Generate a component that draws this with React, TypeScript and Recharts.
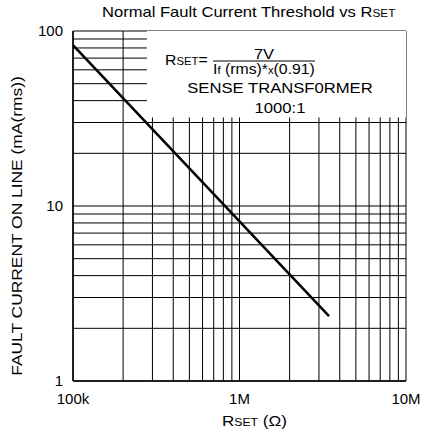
import React from "react";
import { LineChart, Line, XAxis, YAxis, CartesianGrid, ReferenceArea } from "recharts";

// values (log-log)
const RSET_OHMS = [100000, 3450000];
const FAULT_MA = [83, 2.35];

const X_GRID = [
  100000, 200000, 300000, 400000, 500000, 600000, 700000, 800000, 900000,
  1000000, 2000000, 3000000, 4000000, 5000000, 6000000, 7000000, 8000000, 9000000,
  10000000,
];
const Y_GRID = [1, 2, 3, 4, 5, 6, 7, 8, 9, 10, 20, 30, 40, 50, 60, 70, 80, 90, 100];
const X_LABELS: Record<number, string> = { 100000: "100k", 1000000: "1M", 10000000: "10M" };
const Y_LABELS: Record<number, string> = { 1: "1", 10: "10", 100: "100" };

// area behind the formula note, where the grid is left out
const NOTE_R = [278000, 10000000];
const NOTE_I = [32, 100];

const data = RSET_OHMS.map((r, i) => ({ r, i: FAULT_MA[i] }));

const FONT = "'Liberation Sans', Arial, sans-serif";
const tickStyle = { fontSize: 15, fill: "#000", fontFamily: FONT };

// the reference text is a little wider than Arial, so stretch it sideways
const Wide = ({
  x,
  y,
  sx,
  size = 14,
  anchor = "start",
  rotate = 0,
  children,
}: {
  x: number;
  y: number;
  sx: number;
  size?: number;
  anchor?: "start" | "middle" | "end";
  rotate?: number;
  children: React.ReactNode;
}) => (
  <text
    transform={`translate(${x},${y}) rotate(${rotate}) scale(${sx},1)`}
    fontSize={size}
    textAnchor={anchor}
  >
    {children}
  </text>
);

export default function App() {
  return (
    <div style={{ position: "fixed", left: 0, top: 0, width: 426, height: 434, background: "#fff" }}>
      <LineChart
        width={426}
        height={434}
        data={data}
        margin={{ top: 31, right: 20, bottom: 13, left: 33 }}
      >
        <CartesianGrid stroke="#000" strokeWidth={1} />
        <XAxis
          dataKey="r"
          type="number"
          scale="log"
          domain={[100000, 10000000]}
          ticks={X_GRID}
          allowDataOverflow
          height={40}
          tickLine={false}
          tickSize={0}
          tickMargin={12}
          interval={0}
          axisLine={{ stroke: "#000", strokeWidth: 1.5 }}
          tick={tickStyle}
          tickFormatter={(v: number) => X_LABELS[v] ?? ""}
        />
        <YAxis
          type="number"
          scale="log"
          domain={[1, 100]}
          ticks={Y_GRID}
          allowDataOverflow
          width={40}
          tickLine={false}
          tickSize={0}
          tickMargin={10}
          interval={0}
          axisLine={{ stroke: "#000", strokeWidth: 1.5 }}
          tick={tickStyle}
          tickFormatter={(v: number) => Y_LABELS[v] ?? ""}
        />
        <ReferenceArea
          x1={NOTE_R[0]}
          x2={NOTE_R[1]}
          y1={NOTE_I[0]}
          y2={NOTE_I[1]}
          fill="#fff"
          fillOpacity={1}
          stroke="none"
          ifOverflow="hidden"
        />
        <XAxis
          xAxisId="top"
          orientation="top"
          type="number"
          scale="log"
          domain={[100000, 10000000]}
          ticks={X_GRID}
          allowDataOverflow
          height={0}
          mirror
          tickSize={5}
          interval={0}
          tick={false}
          tickLine={{ stroke: "#000" }}
          axisLine={{ stroke: "#000", strokeWidth: 1.5 }}
        />
        <YAxis
          yAxisId="right"
          orientation="right"
          type="number"
          scale="log"
          domain={[1, 100]}
          ticks={Y_GRID}
          allowDataOverflow
          width={0}
          mirror
          tickSize={4}
          interval={0}
          tick={false}
          tickLine={{ stroke: "#000" }}
          axisLine={{ stroke: "#000", strokeWidth: 1.5 }}
        />
        <Line
          dataKey="i"
          type="linear"
          stroke="#000"
          strokeWidth={2.5}
          dot={false}
          isAnimationActive={false}
        />
      </LineChart>
      <svg
        width={426}
        height={434}
        style={{ position: "absolute", left: 0, top: 0, pointerEvents: "none" }}
        fontFamily={FONT}
        fill="#000"
      >
        <Wide x={102} y={17} sx={1.185}>
          Normal Fault Current Threshold vs R<tspan fontSize={10}>SET</tspan>
        </Wide>
        <Wide x={222} y={426} sx={1.22}>
          R<tspan fontSize={10}>SET</tspan> (Ω)
        </Wide>
        <Wide x={22} y={226} sx={1.16} size={15} anchor="middle" rotate={-90}>
          FAULT CURRENT ON LINE (mA(rms))
        </Wide>
        <Wide x={165} y={65} sx={1.13}>
          R<tspan fontSize={10}>SET</tspan>=
        </Wide>
        <Wide x={264} y={59} sx={1.18} anchor="middle">7V</Wide>
        <line x1={213} y1={61} x2={315} y2={61} stroke="#000" strokeWidth={1} />
        <Wide x={213} y={74} sx={1.13}>
          I<tspan fontSize={10}>f</tspan> (rms)*<tspan fontSize={10}>x</tspan>(0.91)
        </Wide>
        <Wide x={280} y={93} sx={1.11} size={15} anchor="middle">SENSE TRANSF0RMER</Wide>
        <Wide x={280} y={113} sx={1.19} anchor="middle">1000:1</Wide>
      </svg>
    </div>
  );
}
